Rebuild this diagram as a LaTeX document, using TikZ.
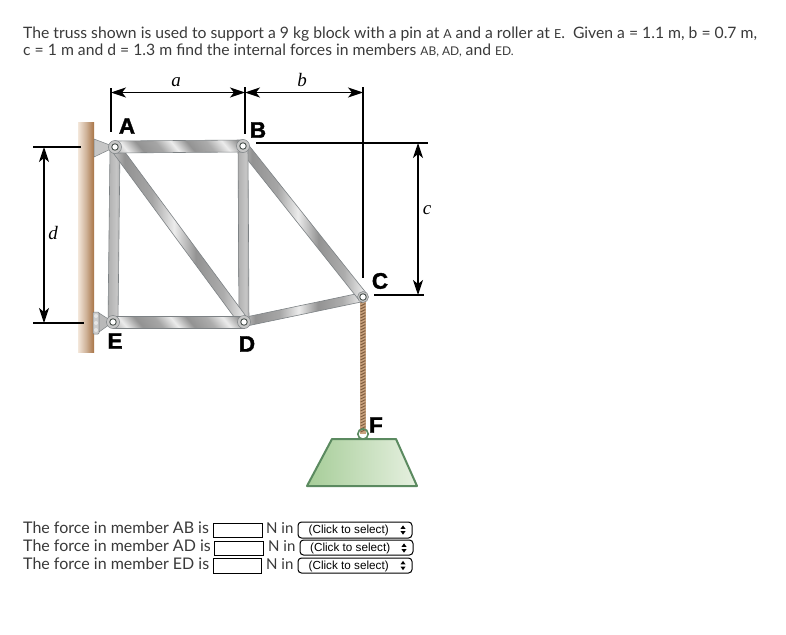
\documentclass[tikz,border=0pt]{standalone}
\usepackage{fontspec}
\setmainfont{Lato}
\newfontfamily\lblfont[BoldFeatures={FakeBold=1.6}]{Liberation Sans}
\newfontfamily\dimfont{Liberation Serif}
\usetikzlibrary{arrows.meta,calc}
\definecolor{ink}{HTML}{3A3A3A}
\definecolor{barline}{HTML}{7D8285}
\definecolor{pinline}{HTML}{4A524E}
\definecolor{wallbrown}{HTML}{A87446}
\definecolor{walllight}{HTML}{F3E7DA}
\definecolor{ropedark}{HTML}{7F5C3E}
\definecolor{ropelight}{HTML}{C9A27E}
\definecolor{blockline}{HTML}{5B8A60}
\definecolor{blockleft}{HTML}{A6CD98}
\definecolor{blockright}{HTML}{E6F0E0}
\pgfdeclarehorizontalshading{barbands}{100bp}{
 color(0bp)=(gray!75!white); color(14bp)=(gray!70!white); color(22bp)=(gray!15!white);
 color(30bp)=(gray!85!white); color(40bp)=(gray!70!white); color(48bp)=(gray!15!white);
 color(56bp)=(gray!85!white); color(66bp)=(gray!65!white); color(74bp)=(gray!15!white);
 color(82bp)=(gray!85!white); color(100bp)=(gray!70!white)}
\pgfdeclarehorizontalshading{barcross}{100bp}{
 color(0bp)=(gray!100!white); color(30bp)=(gray!60!white); color(60bp)=(gray!45!white);
 color(100bp)=(gray!85!white)}
\tikzset{
 x=1pt,y=-1pt,
 member/.style={draw=barline,line width=.6pt,shading=barbands,shading angle=0,minimum height=#1,inner sep=0pt,outer sep=0pt},
 member/.default=10pt,
 flatbar/.style={shading=barbands,shading angle=40},
 uprightbar/.style={shading=barcross,shading angle=0},
 slantbar/.style={shading=barbands,shading angle=0},
 pin/.style={circle,draw=pinline,fill=white,line width=.9pt,minimum size=6.5pt,inner sep=0pt},
 pinhead/.style={circle,draw=barline,fill=gray!45,line width=.5pt,minimum size=13pt,inner sep=0pt},
 para/.style={anchor=base west,inner sep=0pt,text=ink,font=\fontsize{15.72}{17}\selectfont},
 formtext/.style={anchor=base west,inner sep=0pt,text=ink,font=\fontsize{16}{17}\selectfont},
 nintext/.style={anchor=base west,inner sep=0pt,text=ink,font=\fontsize{15}{17}\selectfont},
 lbl/.style={inner sep=0pt,text=black,font=\lblfont\bfseries\fontsize{22.5}{24}\selectfont},
 dimlbl/.style={inner sep=0pt,text=black,font=\dimfont\itshape\fontsize{19}{20}\selectfont},
 dimline/.style={draw=black,line width=1.2pt},
 dimarrow/.style={draw=black,line width=1.2pt,{Stealth[length=15pt,width=10pt,inset=4pt]}-{Stealth[length=15pt,width=10pt,inset=4pt]}},
 inputbox/.style={draw=black,fill=white,line width=.8pt,inner sep=0pt},
 selectbox/.style={draw=black,fill=white,line width=1pt,rounded corners=3.5pt,inner sep=0pt},
 seltext/.style={anchor=base west,inner sep=0pt,text=black,font=\lblfont\fontsize{11.7}{13}\selectfont},
}
\newcommand{\trussbar}[4]{%
 \path let \p1=(#1),\p2=(#2),\n1={atan2(\y2-\y1,\x2-\x1)},\n2={veclen(\x2-\x1,\y2-\y1)} in
  node[member=#3,#4,minimum width=\n2,rotate=\n1] at ($(#1)!.5!(#2)$) {};}
\newcommand{\updown}[2]{%
 \fill[black] (#1-2.5,#2-1.2) -- (#1+2.5,#2-1.2) -- (#1,#2-4.6) -- cycle;
 \fill[black] (#1-2.5,#2+1.2) -- (#1+2.5,#2+1.2) -- (#1,#2+4.6) -- cycle;}
\begin{document}
\begin{tikzpicture}
\useasboundingbox[fill=white] (0,0) rectangle (786,634);
% statement
\node[para] (line1) at (23,38.5) {The truss shown is used to support a 9 kg block with a pin at {\fontsize{12.4}{14}\selectfont A} and a roller at {\fontsize{12.4}{14}\selectfont E}.\ \ Given a = 1.1 m, b = 0.7 m,};
\node[para] (line2) at (23,56) {c = 1 m and d = 1.3 m find the internal forces in members {\fontsize{12}{14}\selectfont AB, AD,} and {\fontsize{12}{14}\selectfont ED.}};
% wall
\shade[left color=walllight,right color=wallbrown,middle color=wallbrown!55!white] (78,122) rectangle (94,352);
% joints
\coordinate (A) at (115,147);
\coordinate (B) at (243,146);
\coordinate (C) at (363,297);
\coordinate (D) at (244,322);
\coordinate (E) at (113,322);
\coordinate (F) at (363,434);
% supports
\fill[gray!45,draw=barline,line width=.5pt] (94,139) -- (115,147) -- (94,157) -- cycle;
\fill[gray!40,draw=barline,line width=.5pt,rounded corners=1pt] (93,312) rectangle (99,334);
\foreach \yy in {316,323,330} \fill[gray!20] (96,\yy) circle (2);
\fill[gray!55,draw=barline,line width=.5pt] (99,313) -- (113,322) -- (99,332) -- cycle;
% rope
\draw[ropelight,line width=5.2pt] (C) -- (F);
\foreach \yy in {303,306,...,432} \draw[ropedark,line width=1pt] (360.6,\yy) -- (365.4,\yy-2.4);
% members
\trussbar{D}{C}{9pt}{slantbar}
\trussbar{B}{C}{10pt}{slantbar}
\trussbar{A}{E}{10pt}{uprightbar}
\trussbar{B}{D}{10pt}{uprightbar}
\trussbar{A}{D}{10pt}{slantbar}
\trussbar{A}{B}{12pt}{flatbar}
\trussbar{E}{D}{12pt}{flatbar}
% pins
\node[pinhead,minimum size=11pt] at (C) {};
\node[pinhead,minimum size=13pt] at (A) {};
\node[pinhead,minimum size=13pt] at (B) {};
\node[pinhead,minimum size=13pt] at (D) {};
\node[pinhead,minimum size=13pt] at (E) {};
\node[pin] (pinA) at (A) {};
\node[pin] (pinB) at (B) {};
\node[pin] (pinC) at (C) {};
\node[pin] (pinD) at (D) {};
\node[pin] (pinE) at (E) {};
% block
\draw[blockline,line width=1.6pt] (F) circle (5.2);
\shade[left color=blockleft,right color=blockright,draw=blockline,line width=2pt,line join=round] (332,439) -- (396,439) -- (417,486) -- (307,486) -- cycle;
% labels
\node[lbl] (lblA) at (127,126) {A};
\node[lbl] (lblB) at (258,130) {B};
\node[lbl] (lblC) at (380,281) {C};
\node[lbl] (lblD) at (247,344) {D};
\node[lbl] (lblE) at (115,341) {E};
\node[lbl] (lblF) at (376,425) {F};
% dimensions
\coordinate (a1) at (111,88);  \coordinate (a2) at (111,132);
\coordinate (b1) at (245,87);  \coordinate (b2) at (245,134);
\coordinate (c1) at (363,87);  \coordinate (c2) at (363,278);
\coordinate (h1) at (256,143); \coordinate (h2) at (428,143);
\coordinate (h3) at (374,295); \coordinate (h4) at (424,295);
\coordinate (d1) at (33,147);  \coordinate (d2) at (81,147);
\coordinate (d3) at (33,323);  \coordinate (d4) at (84,323);
\draw[dimline] (a1) -- (a2);
\draw[dimline] (b1) -- (b2);
\draw[dimline] (c1) -- (c2);
\draw[dimline] (h1) -- (h2);
\draw[dimline] (h3) -- (h4);
\draw[dimline] (d1) -- (d2);
\draw[dimline] (d3) -- (d4);
\draw[dimarrow] (111,92.5) -- (245,92.5);
\draw[dimarrow] (245,92.5) -- (363,92.5);
\draw[dimarrow] (418,143) -- (418,295);
\draw[dimarrow] (44,147) -- (44,323);
\node[dimlbl] (lbla) at (176,82) {a};
\node[dimlbl] (lblb) at (302,80) {b};
\node[dimlbl] (lblc) at (427,210) {c};
\node[dimlbl] (lbld) at (53,233) {d};
% form
\node[formtext] (f1) at (23,533) {The force in member AB is};
\node[formtext] (f2) at (23,551) {The force in member AD is};
\node[formtext] (f3) at (23,569) {The force in member ED is};
\path[inputbox] (213,523) rectangle (262,537);
\path[inputbox] (214,541) rectangle (263,555);
\path[inputbox] (213,558) rectangle (261,573);
\node[nintext] (n1) at (266,533) {N in};
\node[nintext] (n2) at (268,551) {N in};
\node[nintext] (n3) at (266,569) {N in};
\path[selectbox] (298,522) rectangle (412,538);
\path[selectbox] (300,540) rectangle (413,555);
\path[selectbox] (298,558) rectangle (412,573);
\node[seltext] (s1) at (308.5,533) {(Click to select)};
\node[seltext] (s2) at (310,551) {(Click to select)};
\node[seltext] (s3) at (308.5,569) {(Click to select)};
\updown{403}{530}
\updown{404}{548}
\updown{403}{565.5}
\end{tikzpicture}
\end{document}
